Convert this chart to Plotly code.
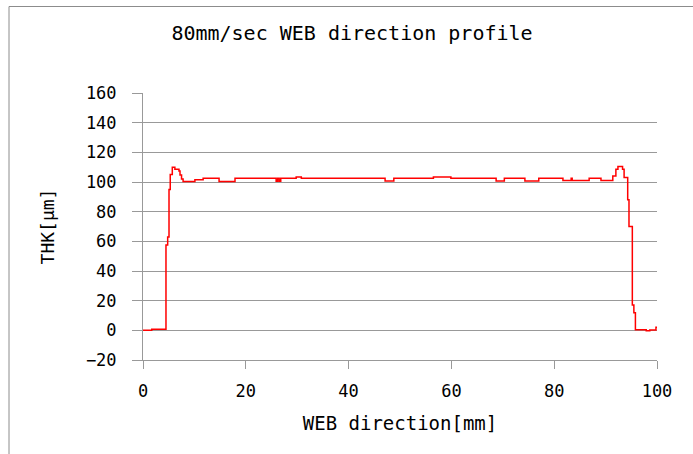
import plotly.graph_objects as go

# Step profile: each x is where a new thickness level starts (hv steps)
web_mm = [0, 1.7, 4.47, 4.8, 5.06, 5.3, 5.7, 6.2, 7.0, 7.2, 7.5, 7.8, 10.1, 11.7, 14.8, 17.9,
          25.9, 26.2, 26.5, 26.8, 29.8, 30.8, 47.1, 48.8, 56.5, 59.9, 68.7, 70.3, 74.3, 77.0,
          81.7, 83.3, 83.5, 86.8, 89.1, 91.4, 92.0, 92.4, 93.3, 93.6, 94.3, 94.55, 95.2, 95.5,
          95.8, 97.9, 98.6, 99.8, 100.1]
thk_um = [0, 0.8, 57.6, 63, 95, 105, 110, 108.6, 107.5, 104.8, 102, 100.4, 101.5, 102.5, 100.4, 102.5,
          100.5, 102.5, 100.5, 102.5, 103.3, 102.5, 100.6, 102.5, 103.3, 102.5, 100.6, 102.5, 100.6, 102.5,
          101, 102.5, 101, 102.5, 101, 104, 108.6, 110.4, 108.6, 103, 88, 70, 17, 11.8,
          0.4, -0.3, 0.3, 2, 1.5]

x_ticks = [0, 20, 40, 60, 80, 100]
y_ticks = [-20, 0, 20, 40, 60, 80, 100, 120, 140, 160]

title_text = "80mm/sec WEB direction profile"
x_title = "WEB direction[mm]"
y_title = "THK[μm]"

FONT = "DejaVu Sans Mono"
GRAY = "#999999"

fig = go.Figure()
fig.add_trace(go.Scatter(x=web_mm, y=thk_um, mode="lines", line=dict(color="#FF0000", width=1.5, shape="hv"),
                         showlegend=False, hoverinfo="skip"))

fig.update_layout(
    width=693, height=454,
    margin=dict(l=143, r=36, t=93, b=94),
    paper_bgcolor="white", plot_bgcolor="white",
    font=dict(family=FONT, color="black"),
    title=dict(text=title_text, x=352 / 693, xref="container", xanchor="center", y=1 - 33 / 454,
               yanchor="middle", font=dict(family=FONT, size=20, color="black")),
    xaxis=dict(range=[0, 100], tickvals=x_ticks, ticks="outside", ticklen=8, tickcolor=GRAY,
               showline=True, linecolor=GRAY, linewidth=1, showgrid=False, zeroline=False,
               ticklabelstandoff=8,
               tickfont=dict(family=FONT, size=17, color="black"),
               title=dict(text=x_title, font=dict(family=FONT, size=19, color="black"), standoff=16)),
    yaxis=dict(range=[-20, 160], tickvals=y_ticks, ticks="outside", ticklen=10, tickcolor=GRAY,
               showline=True, linecolor=GRAY, linewidth=1, showgrid=True, gridcolor=GRAY, gridwidth=1,
               zeroline=False, ticklabelstandoff=12,
               tickfont=dict(family=FONT, size=17, color="black"),
               title=dict(text=y_title, font=dict(family=FONT, size=18, color="black"), standoff=26)),
    shapes=[dict(type="rect", xref="paper", yref="paper",
                 x0=(9 - 143) / 514, x1=(720 - 143) / 514, y0=(360 - 480) / 267, y1=(360 - 6.5) / 267,
                 line=dict(color="#8c8c8c", width=1), fillcolor="rgba(0,0,0,0)", layer="below")],
)

fig.write_html("out.html", config={"displayModeBar": False},
               post_script="document.body.style.margin='0';")
